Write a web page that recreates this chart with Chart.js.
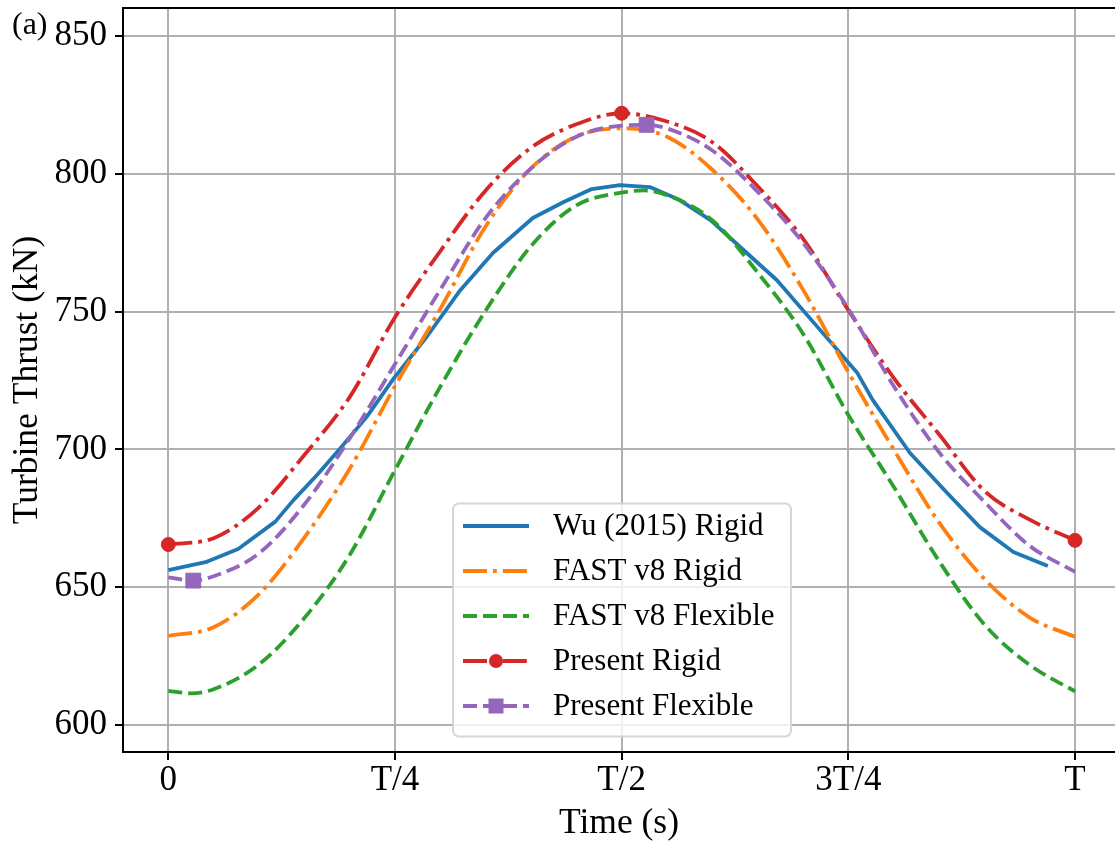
<!DOCTYPE html>
<html>
<head>
<meta charset="utf-8">
<script src="https://cdn.jsdelivr.net/npm/chart.js@4.4.1/dist/chart.umd.min.js"></script>
<style>
html, body { margin: 0; padding: 0; background: #ffffff; overflow: hidden; width: 1115px; height: 846px; }
canvas { display: block; }
</style>
</head>
<body>
<canvas id="c" width="1115" height="846" style="width:1115px;height:846px"></canvas>
<script>
// ---------- data ----------
const xTickValues = [0, 0.25, 0.5, 0.75, 1];
const xTickLabels = ['0', 'T/4', 'T/2', '3T/4', 'T'];
const yTickValues = [600, 650, 700, 750, 800, 850];

const seriesNames = ['Wu (2015) Rigid', 'FAST v8 Rigid', 'FAST v8 Flexible', 'Present Rigid', 'Present Flexible'];

// time in fractions of the period T
const wuT = [0, 0.041, 0.077, 0.118, 0.138, 0.164, 0.190, 0.219, 0.248, 0.285, 0.322, 0.358, 0.402, 0.436, 0.467, 0.498, 0.531, 0.564, 0.598, 0.638, 0.671, 0.719, 0.760, 0.777, 0.818, 0.859, 0.895, 0.932, 0.970];
const wuThrust = [656.2, 659.1, 663.9, 673.8, 681.6, 690.7, 700.5, 711.9, 725.5, 740.9, 757.8, 771.3, 784.0, 789.8, 794.5, 795.9, 795.2, 790.5, 783.2, 771.3, 761.5, 743.3, 727.7, 717.9, 698.7, 684.2, 671.8, 662.8, 657.7];

const fastRigidT = [0, 0.05, 0.10, 0.15, 0.20, 0.25, 0.30, 0.35, 0.40, 0.45, 0.50, 0.55, 0.60, 0.65, 0.70, 0.75, 0.80, 0.85, 0.90, 0.95, 1.00];
const fastRigidThrust = [632.3, 635.5, 647.5, 668, 693, 723, 751, 781, 802, 813.6, 816.5, 813.5, 801.5, 783.5, 758, 728, 700, 673.5, 653, 639, 632];

const fastFlexT = [0, 0.025, 0.05, 0.10, 0.15, 0.20, 0.25, 0.30, 0.35, 0.40, 0.45, 0.50, 0.525, 0.55, 0.60, 0.65, 0.70, 0.75, 0.80, 0.85, 0.90, 0.95, 1.00];
const fastFlexThrust = [612.4, 611.5, 613, 622, 638.8, 661.7, 692.5, 722.8, 750.4, 773.8, 788.6, 793.2, 794, 792.3, 783.2, 764.2, 742, 712.5, 686.5, 659.5, 636.5, 621.8, 612.2];

const presentRigidT = [0, 0.05, 0.10, 0.15, 0.20, 0.25, 0.30, 0.35, 0.40, 0.45, 0.50, 0.55, 0.60, 0.65, 0.70, 0.75, 0.80, 0.85, 0.90, 0.95, 1.00];
const presentRigidThrust = [665.5, 667.8, 679, 698, 719, 748, 772, 794, 809.5, 818, 822, 819, 811.5, 795.5, 776.5, 750.5, 726, 705.5, 685, 674.5, 667];
const presentRigidMarkerT = [0, 0.5, 1.0];

const presentFlexT = [0, 0.0275, 0.05, 0.10, 0.15, 0.20, 0.25, 0.30, 0.35, 0.40, 0.45, 0.50, 0.5275, 0.55, 0.60, 0.65, 0.70, 0.75, 0.80, 0.85, 0.90, 0.95, 1.00];
const presentFlexThrust = [653.6, 652.4, 654, 662.3, 680, 704, 731, 758, 784, 802, 813.5, 817.5, 817.8, 816.5, 808.5, 793.5, 775, 751, 723, 699, 681, 665, 655.6];
const presentFlexMarkerT = [0.0275, 0.5275];

// ---------- helpers ----------
const FONT = 'Liberation Serif';
const pts = (ts, vs) => ts.map((t, i) => ({ x: t, y: vs[i] }));
const markerRadii = (ts, marks, r) => ts.map(t => marks.includes(t) ? r : 0);

const LW = 3.8;
const dashDot = [24, 6, 3.8, 6];
const dashed = [14, 6];

const datasets = [
  { label: seriesNames[0], data: pts(wuT, wuThrust), borderColor: '#1f77b4', backgroundColor: '#1f77b4',
    borderWidth: LW, tension: 0, pointRadius: 0, order: 5 },
  { label: seriesNames[1], data: pts(fastRigidT, fastRigidThrust), borderColor: '#ff7f0e', backgroundColor: '#ff7f0e',
    borderWidth: LW, borderDash: dashDot, cubicInterpolationMode: 'monotone', pointRadius: 0, order: 4 },
  { label: seriesNames[2], data: pts(fastFlexT, fastFlexThrust), borderColor: '#2ca02c', backgroundColor: '#2ca02c',
    borderWidth: LW, borderDash: dashed, cubicInterpolationMode: 'monotone', pointRadius: 0, order: 3 },
  { label: seriesNames[3], data: pts(presentRigidT, presentRigidThrust), borderColor: '#d62728', backgroundColor: '#d62728',
    borderWidth: LW, borderDash: dashDot, cubicInterpolationMode: 'monotone',
    pointStyle: 'circle', pointRadius: markerRadii(presentRigidT, presentRigidMarkerT, 7),
    pointBackgroundColor: '#d62728', pointBorderColor: '#d62728', pointBorderWidth: 1, order: 2 },
  { label: seriesNames[4], data: pts(presentFlexT, presentFlexThrust), borderColor: '#9467bd', backgroundColor: '#9467bd',
    borderWidth: LW, borderDash: dashed, cubicInterpolationMode: 'monotone',
    pointStyle: 'rect', pointRadius: markerRadii(presentFlexT, presentFlexMarkerT, 10.5),
    pointBackgroundColor: '#9467bd', pointBorderColor: '#9467bd', pointBorderWidth: 1, order: 1 }
];
datasets.forEach(d => { d.borderJoinStyle = 'round'; d.borderCapStyle = 'butt'; d.fill = false; d.clip = 8; });

// ---------- plugins: top spine, panel label, legend ----------
const decorPlugin = {
  id: 'decor',
  afterDraw(chart) {
    const { ctx, chartArea } = chart;
    ctx.save();
    // top spine
    ctx.strokeStyle = '#000';
    ctx.lineWidth = 2;
    ctx.beginPath();
    ctx.moveTo(chartArea.left - 1, chartArea.top);
    ctx.lineTo(chartArea.right, chartArea.top);
    ctx.stroke();
    // panel label
    ctx.fillStyle = '#000';
    ctx.font = '32px "' + FONT + '"';
    ctx.textBaseline = 'alphabetic';
    ctx.textAlign = 'left';
    ctx.fillText('(a)', 12, 33.5);

    // legend
    const bx = 453, by = 503.5, bw = 338, bh = 233, r = 6;
    ctx.beginPath();
    ctx.roundRect(bx, by, bw, bh, r);
    ctx.fillStyle = 'rgba(255,255,255,0.8)';
    ctx.fill();
    ctx.strokeStyle = '#d6d6d6';
    ctx.lineWidth = 2;
    ctx.stroke();
    const legendDatasets = chart.data.datasets;
    legendDatasets.forEach((ds, i) => {
      const y = 526 + i * 45;
      ctx.setLineDash(ds.borderDash || []);
      ctx.strokeStyle = ds.borderColor;
      ctx.lineWidth = ds.borderWidth;
      ctx.lineCap = 'butt';
      ctx.beginPath();
      ctx.moveTo(463, y);
      ctx.lineTo(529, y);
      ctx.stroke();
      ctx.setLineDash([]);
      ctx.fillStyle = ds.borderColor;
      if (ds.pointStyle === 'circle') {
        ctx.beginPath();
        ctx.arc(496, y, 7, 0, Math.PI * 2);
        ctx.fill();
      } else if (ds.pointStyle === 'rect') {
        ctx.fillRect(496 - 7.5, y - 7.5, 15, 15);
      }
      ctx.fillStyle = '#000';
      ctx.font = '31px "' + FONT + '"';
      ctx.textBaseline = 'middle';
      ctx.textAlign = 'left';
      ctx.fillText(ds.label, 553, y + 1);
    });
    ctx.restore();
  }
};

const tickFont = { family: FONT, size: 35 };
const titleFont = { family: FONT, size: 35.5 };
const gridOpts = { color: '#b0b0b0', lineWidth: 2, tickColor: '#000', tickLength: 8, tickWidth: 2 };

new Chart(document.getElementById('c'), {
  type: 'line',
  data: { datasets },
  plugins: [decorPlugin],
  options: {
    responsive: false,
    animation: false,
    devicePixelRatio: 1,
    layout: { autoPadding: false, padding: { top: 8, left: 0, right: 0, bottom: 0 } },
    plugins: { legend: { display: false }, tooltip: { enabled: false } },
    scales: {
      x: {
        type: 'linear', min: -0.05, max: 1.0441,
        afterBuildTicks: s => { s.ticks = xTickValues.map(v => ({ value: v })); },
        afterFit: s => { s.height = 94; s.paddingLeft = 0; s.paddingRight = 0; },
        ticks: {
          callback: v => { const i = xTickValues.indexOf(v); return i >= 0 ? xTickLabels[i] : ''; },
          font: tickFont, color: '#000', padding: 0, maxRotation: 0, autoSkip: false
        },
        grid: gridOpts,
        border: { color: '#000', width: 2 },
        title: { display: true, text: 'Time (s)', font: titleFont, color: '#000', padding: { top: 0, bottom: 1 } }
      },
      y: {
        type: 'linear', min: 590.2, max: 860.2,
        afterBuildTicks: s => { s.ticks = yTickValues.map(v => ({ value: v })); },
        afterFit: s => { s.width = 123; s.paddingTop = 0; s.paddingBottom = 0; },
        ticks: { font: tickFont, color: '#000', padding: 8 },
        grid: gridOpts,
        border: { color: '#000', width: 2 },
        title: { display: true, text: 'Turbine Thrust (kN)', font: titleFont, color: '#000', padding: { top: 6, bottom: 0 } }
      }
    }
  }
});
</script>
</body>
</html>
